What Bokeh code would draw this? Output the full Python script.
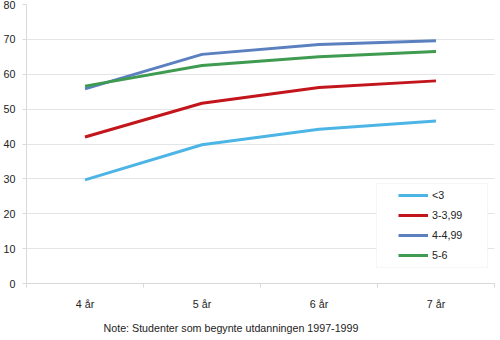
from bokeh.plotting import figure
from bokeh.models import FixedTicker, Legend, LegendItem, Title, Range1d, BoxAnnotation
from bokeh.embed import file_html
from bokeh.resources import INLINE

categories = ["4 år", "5 år", "6 år", "7 år"]
series_names = ["<3", "3-3,99", "4-4,99", "5-6"]
s_lt3 = [29.7, 39.8, 44.2, 46.6]
s_3 = [42.0, 51.7, 56.2, 58.1]
s_4 = [55.8, 65.7, 68.5, 69.6]
s_5 = [56.6, 62.5, 65.0, 66.5]
y_ticks = [0, 10, 20, 30, 40, 50, 60, 70, 80]
note = "Note: Studenter som begynte utdanningen 1997-1999"

colors = ["#4DB5E6", "#C3161C", "#5B80C0", "#3E9B4F"]
FONT = "Liberation Sans"
FS = "10.7px"

xs = [i + 0.5 for i in range(len(categories))]

p = figure(width=500, height=340, output_backend="svg", toolbar_location=None,
           x_range=Range1d(0, len(categories)), y_range=Range1d(0, 80),
           min_border_left=26, min_border_right=6, min_border_top=4, min_border_bottom=57)
p.outline_line_color = None
p.background_fill_color = "white"

p.xgrid.grid_line_color = None
p.ygrid.grid_line_color = "#e4e4e4"
p.ygrid.ticker = FixedTicker(ticks=y_ticks)

p.yaxis.ticker = FixedTicker(ticks=y_ticks)
p.yaxis.axis_line_color = "#d9d9d9"
p.yaxis.major_tick_line_color = "#d9d9d9"
p.yaxis.major_tick_out = 4
p.yaxis.major_tick_in = 0
p.yaxis.minor_tick_line_color = None
p.yaxis.major_label_text_font = FONT
p.yaxis.major_label_text_font_size = FS
p.yaxis.major_label_text_color = "#222222"
p.yaxis.major_label_standoff = 7

p.xaxis.ticker = FixedTicker(ticks=xs, minor_ticks=list(range(len(categories) + 1)))
p.xaxis.major_label_overrides = {x: c for x, c in zip(xs, categories)}
p.xaxis.axis_line_color = "#d9d9d9"
p.xaxis.major_tick_line_color = None
p.xaxis.major_tick_out = 4
p.xaxis.major_tick_in = 0
p.xaxis.minor_tick_line_color = "#d9d9d9"
p.xaxis.minor_tick_out = 4
p.xaxis.minor_tick_in = 0
p.xaxis.major_label_text_font = FONT
p.xaxis.major_label_text_font_size = FS
p.xaxis.major_label_text_color = "#222222"
p.xaxis.major_label_standoff = 10

items = []
for name, vals, c in zip(series_names, [s_lt3, s_3, s_4, s_5], colors):
    r = p.line(xs, vals, line_color=c, line_width=3)
    items.append(LegendItem(label=name, renderers=[r]))

box = BoxAnnotation(left=350, right=461, bottom=16, top=100,
                    left_units="screen", right_units="screen",
                    bottom_units="screen", top_units="screen",
                    fill_color="white", fill_alpha=1,
                    line_color="#e0e0e0", line_width=1)
p.add_layout(box)

legend = Legend(items=items, location=(372, 20), orientation="vertical",
                label_text_font=FONT, label_text_font_size=FS,
                label_text_color="#222222", glyph_width=30, glyph_height=16,
                spacing=4, padding=0, margin=0, label_standoff=4,
                border_line_color=None, background_fill_alpha=0)
p.add_layout(legend, "center")

t = Title(text=note, align="left", offset=77, text_font=FONT,
          text_font_size=FS, text_font_style="normal", text_color="#222222",
          standoff=14)
p.add_layout(t, "below")

open("out.html", "w").write(file_html(p, INLINE))
